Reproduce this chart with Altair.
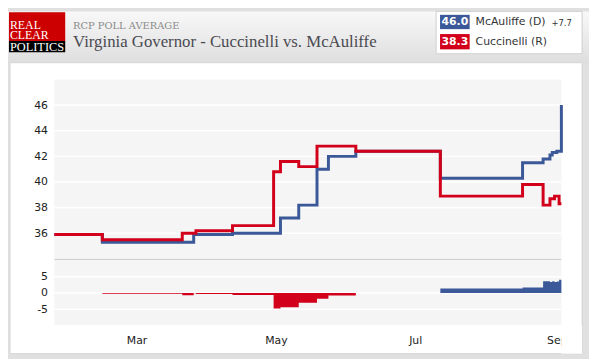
import altair as alt
import pandas as pd

# ---------------- data ----------------
mca_dates = ["2013-01-24", "2013-02-14", "2013-03-26", "2013-04-12", "2013-05-03",
             "2013-05-11", "2013-05-19", "2013-05-24", "2013-06-05", "2013-07-12",
             "2013-08-17", "2013-08-26", "2013-08-29", "2013-08-30", "2013-09-01",
             "2013-09-03"]
mca_vals = [35.9, 35.3, 35.9, 36.0, 37.2, 38.2, 41.0, 42.0, 42.4, 40.3,
            41.5, 41.8, 42.1, 42.3, 42.4, 46.0]

cuc_dates = ["2013-01-24", "2013-02-14", "2013-03-21", "2013-03-27", "2013-04-12",
             "2013-04-30", "2013-05-03", "2013-05-11", "2013-05-19", "2013-06-05",
             "2013-07-12", "2013-08-17", "2013-08-26", "2013-08-29", "2013-08-31",
             "2013-09-02", "2013-09-03"]
cuc_vals = [35.9, 35.5, 36.0, 36.2, 36.6, 40.8, 41.6, 41.2, 42.8, 42.4,
            38.9, 39.8, 38.2, 38.7, 38.9, 38.3, 38.3]

x_domain = ["2013-01-24", "2013-09-03"]
x_ticks = ["2013-03-01", "2013-05-01", "2013-07-01", "2013-09-01"]
y_ticks = [36, 38, 40, 42, 44, 46]
spread_ticks = [-5, 0, 5]

names = ["McAuliffe (D)", "Cuccinelli (R)"]
BLUE = "#3b5998"
RED = "#d2001a"

# ---------------- derived tables ----------------
mca = pd.Series(mca_vals, index=pd.to_datetime(mca_dates))
cuc = pd.Series(cuc_vals, index=pd.to_datetime(cuc_dates))
idx = mca.index.union(cuc.index)
spread = (mca.reindex(idx).ffill() - cuc.reindex(idx).ffill()).round(1)
spread_df = pd.DataFrame({
    "date": idx.strftime("%Y-%m-%d"),
    "pos": spread.clip(lower=0).values,
    "neg": spread.clip(upper=0).values,
})
mca_df = pd.DataFrame({"date": mca_dates, "value": mca_vals})
cuc_df = pd.DataFrame({"date": cuc_dates, "value": cuc_vals})

last_d = f"{mca_vals[-1]:.1f}"
last_r = f"{cuc_vals[-1]:.1f}"
lead = f"+{mca_vals[-1] - cuc_vals[-1]:.1f}"


def dt(s):
    y, m, d = (int(p) for p in s.split("-"))
    return alt.DateTime(year=y, month=m, date=d, utc=True)


W = 514
xscale = alt.Scale(type="utc", domain=[dt(d) for d in x_domain])
one = alt.Data(values=[{}])
FONT = "DejaVu Sans"


def rect(x, x2, y, y2, **kw):
    return alt.Chart(one).mark_rect(**kw).encode(
        x=alt.value(x), x2=alt.value(x2), y=alt.value(y), y2=alt.value(y2))


def text(x, y, t, **kw):
    kw.setdefault("baseline", "alphabetic")
    return alt.Chart(one).mark_text(**kw).encode(
        x=alt.value(x), y=alt.value(y), text=alt.value(t))


grad = alt.Gradient(
    gradient="linear",
    stops=[alt.GradientStop(color="#f8f8f8", offset=0),
           alt.GradientStop(color="#dedede", offset=1)],
    x1=0, x2=0, y1=0, y2=1)

# ---------------- header / frame ----------------
bg = alt.layer(
    rect(-47, 542, 0, 351, color="#e0e0e0"),
    rect(-47, 542, 0, 52, color=grad),
    rect(-45, 535, 52, 347, color="white", stroke="#d4d4d4", strokeWidth=1),
    # logo
    rect(-46, 11, 1, 30, color="#cc0000"),
    rect(-46, 11, 30, 41.5, color="#000000"),
    text(-45, 18, "REAL", align="left", font="Liberation Serif", fontSize=12, color="white"),
    text(-45, 28.5, "CLEAR", align="left", font="Liberation Serif", fontSize=12, color="white"),
    text(-45, 40, "POLITICS", align="left", font="Liberation Serif", fontSize=12.5, color="white"),
    # titles
    text(19, 18, "RCP POLL AVERAGE", align="left", font="DejaVu Serif", fontSize=10,
         color="#8a8a8a"),
    text(19, 36, "Virginia Governor - Cuccinelli vs. McAuliffe", align="left",
         font="Liberation Serif", fontSize=17, color="#4a4a52"),
    # legend box
    rect(387, 535, 0, 43, color="white", stroke="#cfcfcf", strokeWidth=1),
    rect(391, 421, 3.5, 18, color=BLUE),
    rect(391, 421, 23, 38.5, color=RED),
    text(406, 11, last_d, font=FONT, fontSize=11, fontWeight="bold", color="white",
         baseline="middle"),
    text(406, 31, last_r, font=FONT, fontSize=11, fontWeight="bold", color="white",
         baseline="middle"),
    text(427, 11, names[0], align="left", baseline="middle", font=FONT, fontSize=11,
         color="#333333"),
    text(504, 12, lead, align="left", baseline="middle", font=FONT, fontSize=8.5,
         color="#333333"),
    text(427, 31, names[1], align="left", baseline="middle", font=FONT, fontSize=11,
         color="#333333"),
).properties(width=W, height=69)

# ---------------- top panel ----------------
yscale = alt.Scale(domain=[34, 48], nice=False, zero=False)


def yaxis():
    return alt.Axis(values=y_ticks, grid=False, ticks=False, domain=False, labelPadding=7,
                    labelOverlap=False, labelFont=FONT, labelFontSize=11,
                    labelColor="#222222", title=None)


grid_top = alt.Chart(pd.DataFrame({"v": y_ticks})).mark_rule(
    color="white", strokeWidth=1.5).encode(y=alt.Y("v:Q", scale=yscale, axis=yaxis()))

line_d = alt.Chart(mca_df).mark_line(interpolate="step-after", strokeWidth=3, color=BLUE).encode(
    x=alt.X("date:T", scale=xscale, axis=None),
    y=alt.Y("value:Q", scale=yscale, axis=yaxis()))
line_r = alt.Chart(cuc_df).mark_line(interpolate="step-after", strokeWidth=3, color=RED).encode(
    x=alt.X("date:T", scale=xscale, axis=None),
    y=alt.Y("value:Q", scale=yscale, axis=yaxis()))

top = alt.layer(grid_top, line_d, line_r).properties(
    width=W, height=182, view=alt.ViewBackground(fill="#f5f5f5", stroke=None))

# ---------------- bottom (spread) panel ----------------
sscale = alt.Scale(domain=[-9.85, 10.45], nice=False, zero=False)


def saxis():
    return alt.Axis(values=spread_ticks, grid=False, ticks=False, domain=False,
                    labelPadding=7, labelOverlap=False, labelExpr="'' + datum.value",
                    labelFont=FONT, labelFontSize=11, labelColor="#222222", title=None)


def xaxis():
    return alt.Axis(values=[dt(d) for d in x_ticks], format="%b", grid=False, ticks=False,
                    domain=False, labelPadding=10, labelFlush=False, labelOverlap=False,
                    labelFont=FONT, labelFontSize=11, labelColor="#222222", title=None)


grid_bot = alt.Chart(pd.DataFrame({"v": spread_ticks})).mark_rule(
    color="white", strokeWidth=1.5).encode(y=alt.Y("v:Q", scale=sscale, axis=saxis()))
area_neg = alt.Chart(spread_df).mark_area(interpolate="step-after", color=RED).encode(
    x=alt.X("date:T", scale=xscale, axis=xaxis()),
    y=alt.Y("neg:Q", scale=sscale, axis=saxis()))
area_pos = alt.Chart(spread_df).mark_area(interpolate="step-after", color=BLUE).encode(
    x=alt.X("date:T", scale=xscale, axis=xaxis()),
    y=alt.Y("pos:Q", scale=sscale, axis=saxis()))
sep = alt.Chart(one).mark_rule(color="#cccccc", strokeWidth=1).encode(
    y=alt.value(0.5))
clip_sep = rect(W, W + 21, 67, 96, color="white")

bottom = alt.layer(grid_bot, area_neg, area_pos, sep, clip_sep).properties(
    width=W, height=67, view=alt.ViewBackground(fill="#f5f5f5", stroke=None))

chart = alt.vconcat(bg, top, bottom, spacing=0, bounds="flush").properties(
    padding=0, background="#e0e0e0").configure_view(stroke=None).configure_axis(
    labelOverlap=False)

chart.save("out.html", embed_options={"renderer": "svg", "actions": False})
